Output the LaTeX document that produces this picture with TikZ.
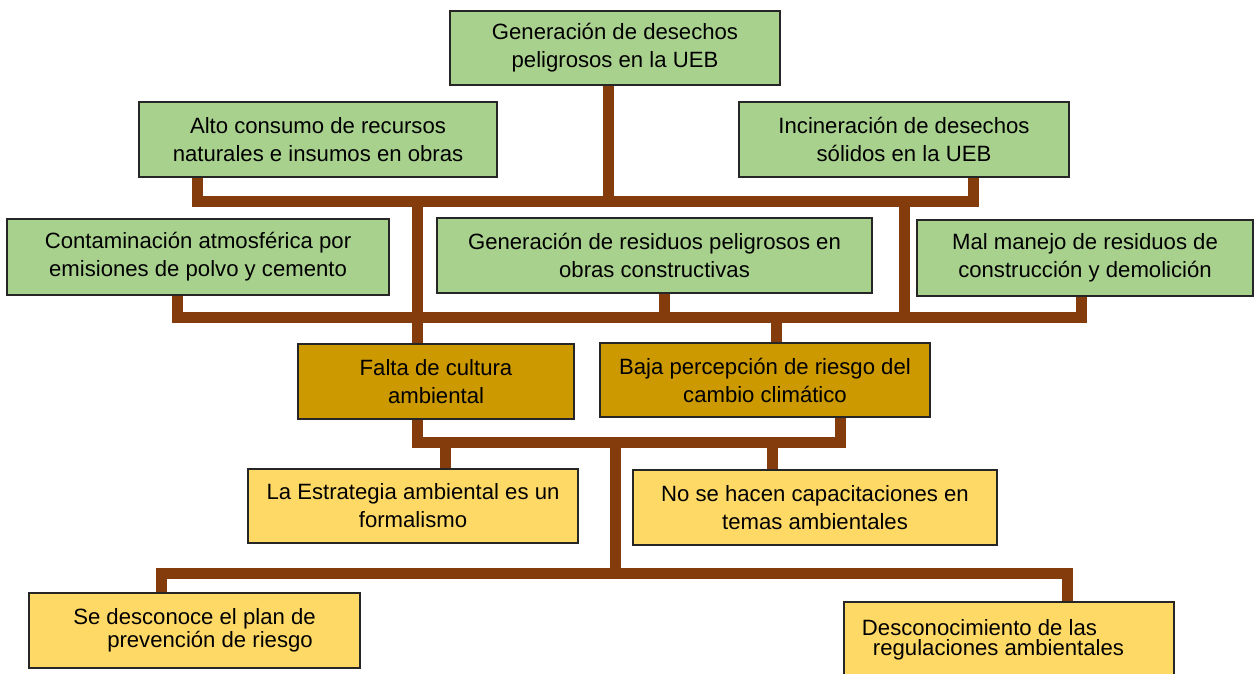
\documentclass[tikz,border=0pt]{standalone}
\usepackage{fontspec}
\setmainfont{Liberation Sans}
\usepackage{tikz}
\definecolor{verde}{HTML}{A9D18E}
\definecolor{oro}{HTML}{CC9900}
\definecolor{amarillo}{HTML}{FFD966}
\definecolor{cafe}{HTML}{843C0C}

\begin{document}
\begin{tikzpicture}[x=0.02cm, y=-0.02cm, line join=miter,
		every node/.style={draw=black!85, line width=0.8pt, align=center, inner sep=2pt, font=\fontsize{12.6}{15.9}\selectfont},
		efecto/.style={fill=verde},
		problema/.style={fill=oro},
		causa/.style={fill=amarillo},
		rama/.style={draw=cafe, line width=0.22cm}]
	\useasboundingbox (0,0) rectangle (1254,673);
	\node[efecto, minimum width=6.6cm, minimum height=1.48cm](gen) at (615,48) {Generación de desechos\\peligrosos en la UEB};
	\node[efecto, minimum width=7.16cm, minimum height=1.5cm](alto) at (318,139.5) {Alto consumo de recursos\\naturales e insumos en obras};
	\node[efecto, minimum width=6.6cm, minimum height=1.5cm](inci) at (904,139.5) {Incineración de desechos\\sólidos en la UEB};
	\node[efecto, minimum width=7.64cm, minimum height=1.52cm](cont) at (198,257) {Contaminación atmosférica por\\emisiones de polvo y cemento};
	\node[efecto, minimum width=8.7cm, minimum height=1.5cm](resi) at (654.5,255.5) {Generación de residuos peligrosos en\\obras constructivas};
	\node[efecto, minimum width=6.72cm, minimum height=1.52cm](mal) at (1085,258) {Mal manejo de residuos de\\construcción y demolición};
	\node[problema, minimum width=5.52cm, minimum height=1.5cm](falta) at (436,381.5) {Falta de cultura\\ambiental};
	\node[problema, minimum width=6.6cm, minimum height=1.48cm](baja) at (765,380) {Baja percepción de riesgo del\\cambio climático};
	\node[causa, minimum width=6.6cm, minimum height=1.48cm](estr) at (413,506) {La Estrategia ambiental es un\\formalismo};
	\node[causa, minimum width=7.28cm, minimum height=1.5cm](capa) at (815,507.5) {No se hacen capacitaciones en\\temas ambientales};
	\node[causa, minimum width=6.62cm, minimum height=1.5cm, align=left, font=\fontsize{12.6}{11.4}\selectfont](plan) at (194.5,630.5) {Se desconoce el plan de\\\hspace*{0.68cm}prevención de riesgo};
	\node[causa, minimum width=6.6cm, minimum height=1.5cm, align=left, font=\fontsize{12.6}{11.4}\selectfont](regu) at (1009,639.5) {Desconocimiento de las\\\hspace*{0.22cm}regulaciones ambientales\hspace*{0.64cm}};

	\coordinate(t1) at (608,201);
	\coordinate(a1) at (197,201);
	\coordinate(a2) at (973,201);
	\coordinate(d1) at (417,201);
	\coordinate(d2) at (904,201);
	\coordinate(b1) at (177,317);
	\coordinate(b2) at (1081,317);
	\coordinate(g1) at (664,317);
	\coordinate(g2) at (776,317);
	\coordinate(c1) at (417,442);
	\coordinate(c2) at (840,442);
	\coordinate(c3) at (445,442);
	\coordinate(c4) at (772,442);
	\coordinate(c5) at (615,442);
	\coordinate(e1) at (161,573);
	\coordinate(e2) at (1067,573);

	\draw[rama](gen.south -| t1) -- (t1);
	\draw[rama](alto.south -| a1) -- (a1) -- (a2) -- (inci.south -| a2);
	\draw[rama](d1) -- (falta.north -| d1);
	\draw[rama](d2) -- (d2 |- b1);
	\draw[rama](cont.south -| b1) -- (b1) -- (b2) -- (mal.south -| b2);
	\draw[rama](resi.south -| g1) -- (g1);
	\draw[rama](g2) -- (baja.north -| g2);
	\draw[rama](falta.south -| c1) -- (c1) -- (c2) -- (baja.south -| c2);
	\draw[rama](c3) -- (estr.north -| c3);
	\draw[rama](c4) -- (capa.north -| c4);
	\draw[rama](c5) -- (c5 |- e1);
	\draw[rama](plan.north -| e1) -- (e1) -- (e2) -- (regu.north -| e2);
\end{tikzpicture}
\end{document}
